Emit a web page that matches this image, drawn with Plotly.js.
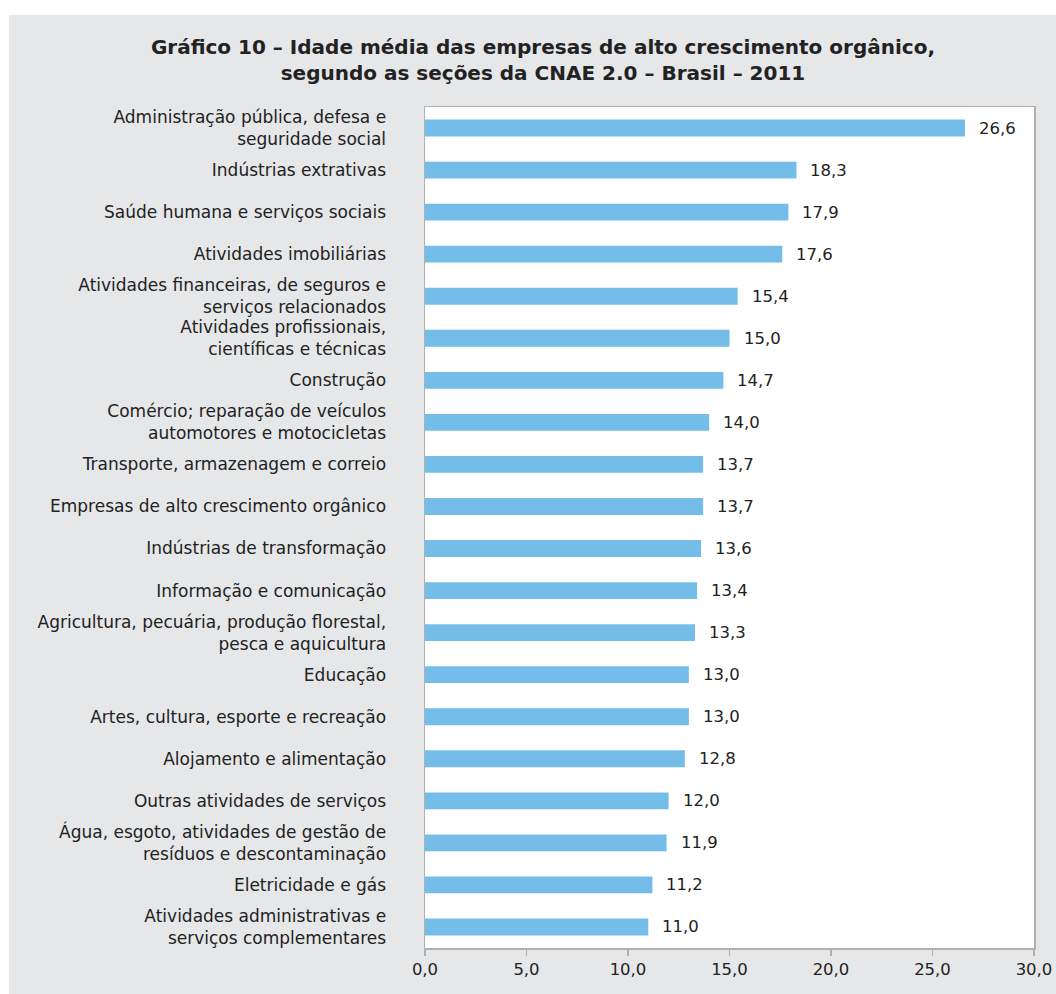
<!DOCTYPE html>
<html>
<head>
<meta charset="utf-8">
<script src="https://cdn.plot.ly/plotly-3.0.1.min.js"></script>
<style>
html,body{margin:0;padding:0;background:#ffffff;}
#chart{position:absolute;left:9px;top:15px;width:1047px;height:979px;}
</style>
</head>
<body>
<div id="chart"></div>
<script>
const categories = [
  "Administração pública, defesa e<br>seguridade social",
  "Indústrias extrativas",
  "Saúde humana e serviços sociais",
  "Atividades imobiliárias",
  "Atividades financeiras, de seguros e<br>serviços relacionados",
  "Atividades profissionais,<br>científicas e técnicas",
  "Construção",
  "Comércio; reparação de veículos<br>automotores e motocicletas",
  "Transporte, armazenagem e correio",
  "Empresas de alto crescimento orgânico",
  "Indústrias de transformação",
  "Informação e comunicação",
  "Agricultura, pecuária, produção florestal,<br>pesca e aquicultura",
  "Educação",
  "Artes, cultura, esporte e recreação",
  "Alojamento e alimentação",
  "Outras atividades de serviços",
  "Água, esgoto, atividades de gestão de<br>resíduos e descontaminação",
  "Eletricidade e gás",
  "Atividades administrativas e<br>serviços complementares"
];
const values = [26.6, 18.3, 17.9, 17.6, 15.4, 15.0, 14.7, 14.0, 13.7, 13.7, 13.6, 13.4, 13.3, 13.0, 13.0, 12.8, 12.0, 11.9, 11.2, 11.0];
const xTicks = [0, 5, 10, 15, 20, 25, 30];

const fmt = v => v.toFixed(1).replace('.', ',');
const FONT = 'DejaVu Sans, Verdana, sans-serif';

const annotations = values.map((v, i) => ({
  x: v, y: categories[i], xref: 'x', yref: 'y',
  text: fmt(v), showarrow: false, xanchor: 'left', xshift: 12,
  font: {family: FONT, size: 16.5, color: '#222'}
}));

const trace = {
  type: 'bar', orientation: 'h',
  x: values, y: categories,
  marker: {color: '#74bde8'},
  hoverinfo: 'skip'
};

const layout = {
  width: 1047, height: 979,
  paper_bgcolor: '#e6e7e9',
  plot_bgcolor: '#ffffff',
  margin: {l: 416, r: 22, t: 92, b: 46},
  separators: ', ',
  bargap: 0.6,
  showlegend: false,
  title: {
    text: '<b>Gráfico 10 – Idade média das empresas de alto crescimento orgânico,<br>segundo as seções da CNAE 2.0 – Brasil – 2011</b>',
    x: 0.51, xanchor: 'center', y: 0.96, yanchor: 'top',
    font: {family: 'DejaVu Sans', stretch: 'condensed', size: 20, color: '#222'}
  },
  xaxis: {
    range: [0, 30], tickvals: xTicks, ticktext: xTicks.map(fmt),
    showgrid: false, zeroline: false,
    showline: true, linecolor: '#b0b0b0', linewidth: 1.5, mirror: true,
    ticks: 'outside', ticklen: 6, tickcolor: '#b0b0b0', tickwidth: 1.5,
    tickfont: {family: FONT, size: 16.5, color: '#222'}
  },
  yaxis: {
    type: 'category', autorange: 'reversed',
    showgrid: false, zeroline: false,
    showline: true, linecolor: '#b0b0b0', linewidth: 1.5, mirror: true,
    ticks: '', ticklabelstandoff: 34,
    tickfont: {family: FONT, size: 17, color: '#222'}
  },
  annotations: annotations
};

Plotly.newPlot('chart', [trace], layout, {displayModeBar: false, staticPlot: true});
</script>
</body>
</html>
